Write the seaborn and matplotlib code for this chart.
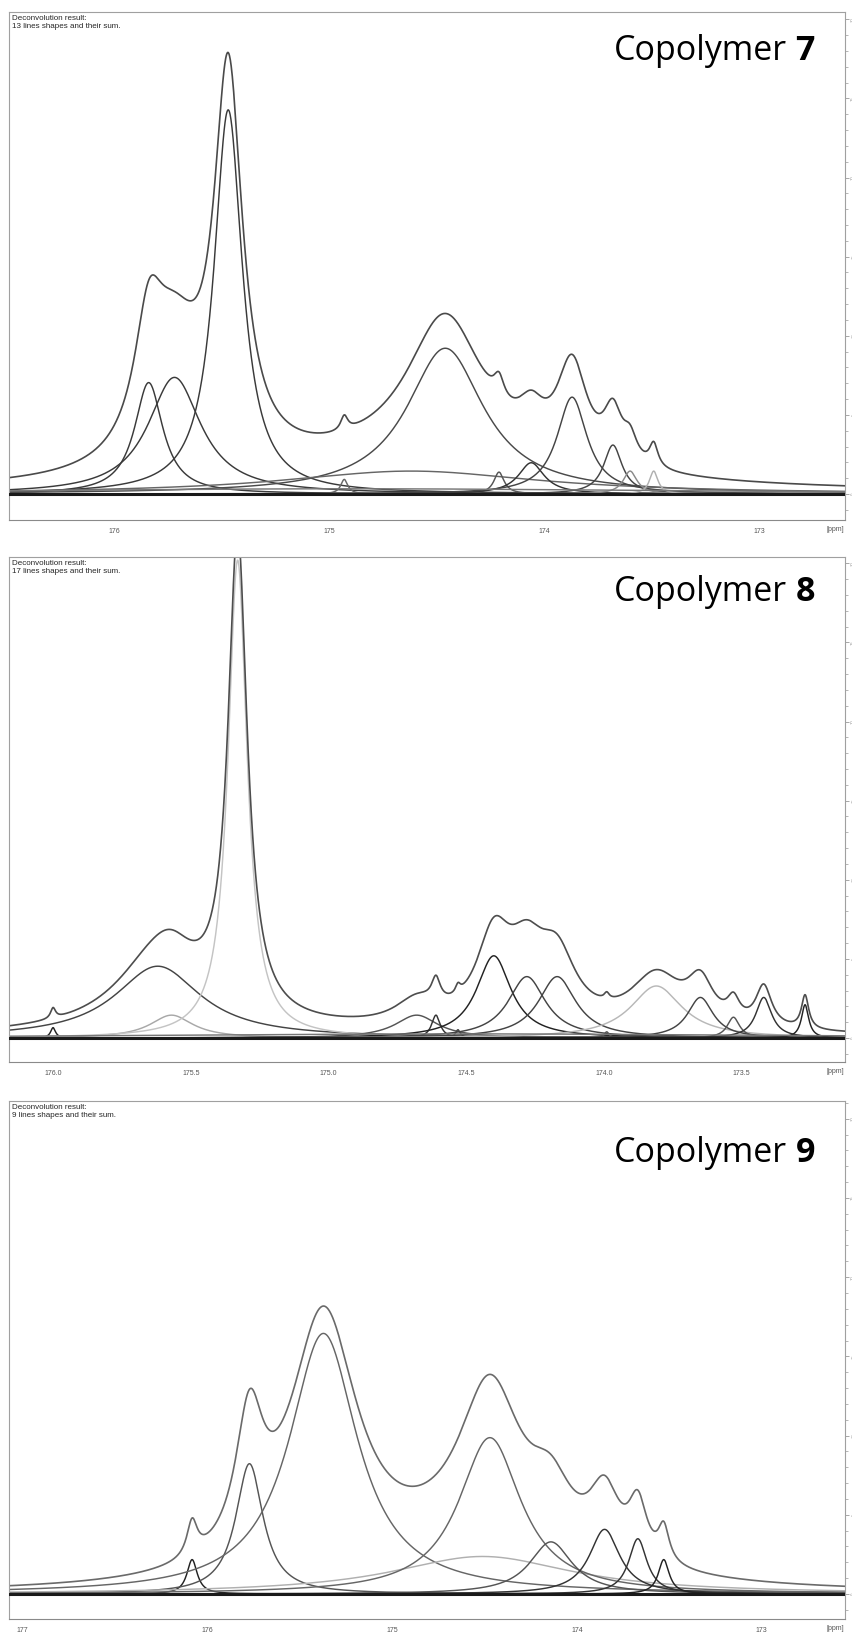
import numpy as np
import pandas as pd
import matplotlib
matplotlib.use("Agg")
import matplotlib.pyplot as plt
import seaborn as sns

sns.set_theme(style="white")
plt.rcParams['font.family'] = ['Open Sans', 'DejaVu Sans']

# ---------------- data: fitted line shapes (centre ppm, height, half-width ppm) ----------------
# Copolymer 7 (13 lines)
c7_center = [175.84, 175.72, 175.47, 174.93, 174.46, 174.62, 174.21, 174.06, 173.87, 173.68, 173.60, 173.49, 174.90]
c7_height = [107, 112, 369, 14, 140, 22, 21, 30, 93, 47, 22, 22, 5]
c7_width = [0.08, 0.15, 0.08, 0.020, 0.218, 0.73, 0.029, 0.073, 0.085, 0.052, 0.039, 0.024, 2.0]
c7_shade = ['#3a3a3a', '#3a3a3a', '#3a3a3a', '#666666', '#4a4a4a', '#666666', '#555555',
            '#333333', '#444444', '#444444', '#8a8a8a', '#b0b0b0', '#777777']

# Copolymer 8 (17 lines)
c8_center = [176.00, 175.62, 175.57, 175.33, 174.68, 174.61, 174.53, 174.40, 174.28, 174.17,
             173.99, 173.81, 173.65, 173.53, 173.42, 173.27, 174.50]
c8_height = [10, 69, 22, 459, 22, 22, 8, 79, 59, 59, 6, 50, 39, 20, 39, 32, 4]
c8_width = [0.011, 0.19, 0.095, 0.042, 0.095, 0.019, 0.011, 0.076, 0.083, 0.083,
            0.011, 0.114, 0.057, 0.027, 0.035, 0.016, 1.5]
c8_shade = ['#222222', '#444444', '#a8a8a8', '#c4c4c4', '#555555', '#333333', '#444444', '#222222',
            '#444444', '#444444', '#555555', '#b8b8b8', '#444444', '#555555', '#333333', '#222222', '#777777']

# Copolymer 9 (9 lines)
c9_center = [176.08, 175.77, 175.37, 174.51, 174.47, 174.14, 173.85, 173.67, 173.53]
c9_height = [33, 125, 250, 36, 150, 50, 62, 53, 33]
c9_width = [0.034, 0.09, 0.225, 0.60, 0.205, 0.14, 0.10, 0.06, 0.036]
c9_shade = ['#222222', '#555555', '#666666', '#b0b0b0', '#666666', '#555555', '#333333', '#333333', '#222222']

panels = [
    dict(center=c7_center, height=c7_height, width=c7_width, shade=c7_shade, sumcol='#4a4a4a',
         xlim=(176.49, 172.6), ylim=(-25, 463), major=1.0, minor=0.2, fmt='{:.0f}',
         label='7', nlines=13, pos=(12, 520), ty=0.906),
    dict(center=c8_center, height=c8_height, width=c8_width, shade=c8_shade, sumcol='#4d4d4d',
         xlim=(176.16, 173.125), ylim=(-23, 462), major=0.5, minor=0.1, fmt='{:.1f}',
         label='8', nlines=17, pos=(557, 1062), ty=0.913),
    dict(center=c9_center, height=c9_height, width=c9_width, shade=c9_shade, sumcol='#6a6a6a',
         xlim=(177.07, 172.55), ylim=(-24, 473), major=1.0, minor=0.2, fmt='{:.0f}',
         label='9', nlines=9, pos=(1101, 1619), ty=0.882),
]

W, H = 853, 1634
fig = plt.figure(figsize=(W / 100, H / 100), dpi=100)
fig.patch.set_facecolor('white')

small_font = ['Liberation Sans', 'DejaVu Sans']
narrow_font = ['Liberation Sans Narrow', 'Liberation Sans', 'DejaVu Sans']


def lorentz(x, c, h, w):
    return h / (1.0 + ((x - c) / w) ** 2)


for p in panels:
    top, bot = p['pos']
    ax = fig.add_axes([9 / W, 1 - bot / H, 836 / W, (bot - top) / H])
    ax.set_facecolor('white')
    x = np.linspace(p['xlim'][1], p['xlim'][0], 3000)
    total = np.zeros_like(x)
    for c, h, w, col in zip(p['center'], p['height'], p['width'], p['shade']):
        y = lorentz(x, c, h, w)
        total += y
        sns.lineplot(x=x, y=y, ax=ax, color=col, lw=1.05, estimator=None, sort=False)
    sns.lineplot(x=x, y=total, ax=ax, color=p['sumcol'], lw=1.2, estimator=None, sort=False)
    ax.axhline(0, color='#1a1a1a', lw=2.2, zorder=5)

    ax.set_xlim(*p['xlim'])
    ax.set_ylim(*p['ylim'])
    ax.set_xlabel('')
    ax.set_ylabel('')
    for s in ax.spines.values():
        s.set_color('#a0a0a0')
        s.set_linewidth(0.8)
    ax.spines['bottom'].set_color('#8a8a8a')

    lo, hi = min(p['xlim']), max(p['xlim'])
    maj = np.arange(np.ceil(lo / p['major']) * p['major'], hi, p['major'])
    mino = np.arange(np.ceil(lo / p['minor']) * p['minor'], hi, p['minor'])
    ax.set_xticks(maj)
    ax.set_xticklabels([p['fmt'].format(v) for v in maj])
    ax.set_xticks(mino, minor=True)
    ax.tick_params(axis='x', which='major', direction='out', length=3.5, width=0.6,
                   color='#888888', labelsize=5, labelcolor='#555555', pad=2)
    ax.tick_params(axis='x', which='minor', direction='out', length=2.2, width=0.6, color='#888888')

    ax.yaxis.tick_right()
    ymaj = np.arange(0, p['ylim'][1], 76)
    ymin = np.arange(-15.2, p['ylim'][1], 15.2)
    ax.set_yticks(ymaj)
    ax.set_yticklabels([str(int(i * 5)) for i in range(len(ymaj))], rotation=90, va='center')
    ax.set_yticks(ymin, minor=True)
    ax.tick_params(axis='y', which='major', direction='out', length=3, width=0.6,
                   color='#999999', labelsize=3, labelcolor='#888888', pad=1.5)
    ax.tick_params(axis='y', which='minor', direction='out', length=1.8, width=0.5, color='#999999')

    for lab in ax.get_xticklabels():
        lab.set_family(narrow_font)
    ax.text(0.988, -0.018, '[ppm]', transform=ax.transAxes, ha='center', va='center',
            fontsize=5, color='#555555', family=narrow_font)

    ax.text(0.003, 0.995, 'Deconvolution result:\n%d lines shapes and their sum.' % p['nlines'],
            transform=ax.transAxes, ha='left', va='top', fontsize=5.8, color='#262626',
            linespacing=1.2, family=small_font)

    num = ax.text(0.964, p['ty'], p['label'], transform=ax.transAxes, ha='right', va='baseline',
                  fontsize=24.5, fontweight='bold', color='black')
    ax.annotate('Copolymer', xy=(0, p['ty']), xycoords=(num, 'axes fraction'),
                xytext=(-6.5, 0), textcoords='offset points', ha='right', va='baseline',
                fontsize=24.5, color='black')

fig.savefig('out.png', dpi=100, facecolor='white')
